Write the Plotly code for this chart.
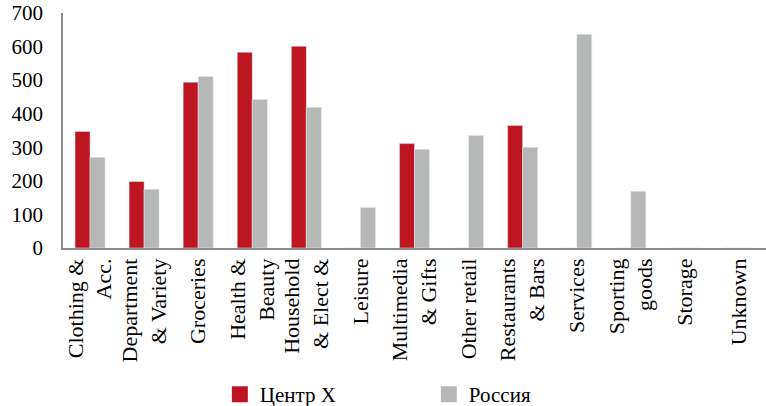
import plotly.graph_objects as go

categories = ["Clothing &<br>Acc.", "Department<br>& Variety", "Groceries", "Health &<br>Beauty",
              "Household<br>& Elect &", "Leisure", "Multimedia<br>& Gifts", "Other retail",
              "Restaurants<br>& Bars", "Services", "Sporting<br>goods", "Storage", "Unknown"]
centre_x = [347, 198, 494, 583, 601, 0, 311, 0, 365, 0, 0, 0, 0]
russia = [270, 175, 511, 442, 419, 121, 294, 335, 300, 637, 169, 0, 0]
series_names = ["Центр X", "Россия"]

RED = "#BE1620"
GRAY = "#B5B8B5"
FONT = "Liberation Serif, Times New Roman, serif"

fig = go.Figure()
fig.add_trace(go.Bar(x=categories, y=centre_x, name=series_names[0], marker_color=RED,
                     showlegend=False))
fig.add_trace(go.Bar(x=categories, y=russia, name=series_names[1], marker_color=GRAY,
                     showlegend=False))
# legend entries with larger square swatches
for name, col in zip(series_names, [RED, GRAY]):
    fig.add_trace(go.Scatter(x=[None], y=[None], mode="markers", name=name,
                             marker=dict(symbol="square", size=16, color=col)))

fig.update_layout(
    width=766, height=406,
    margin=dict(l=63, r=0, t=13, b=158),
    paper_bgcolor="white", plot_bgcolor="white",
    font=dict(family=FONT, size=21, color="black"),
    barmode="group", bargap=0.444, bargroupgap=0,
    showlegend=True,
    legend=dict(orientation="h", xref="container", yref="container",
                x=0.287, y=0.028, xanchor="left", yanchor="middle",
                entrywidth=164, itemsizing="trace", font=dict(size=21)),
)
fig.update_xaxes(showline=True, linecolor="#8C8C8C", linewidth=1.5, ticks="",
                 tickangle=-90, showgrid=False, tickfont=dict(size=22),
                 type="category")
fig.update_yaxes(range=[0, 700], dtick=100, showline=True, linecolor="#8C8C8C", linewidth=1.5,
                 ticks="", showgrid=False, zeroline=False, tickfont=dict(size=21),
                 ticklabelstandoff=14)

fig.write_html("out.html")
